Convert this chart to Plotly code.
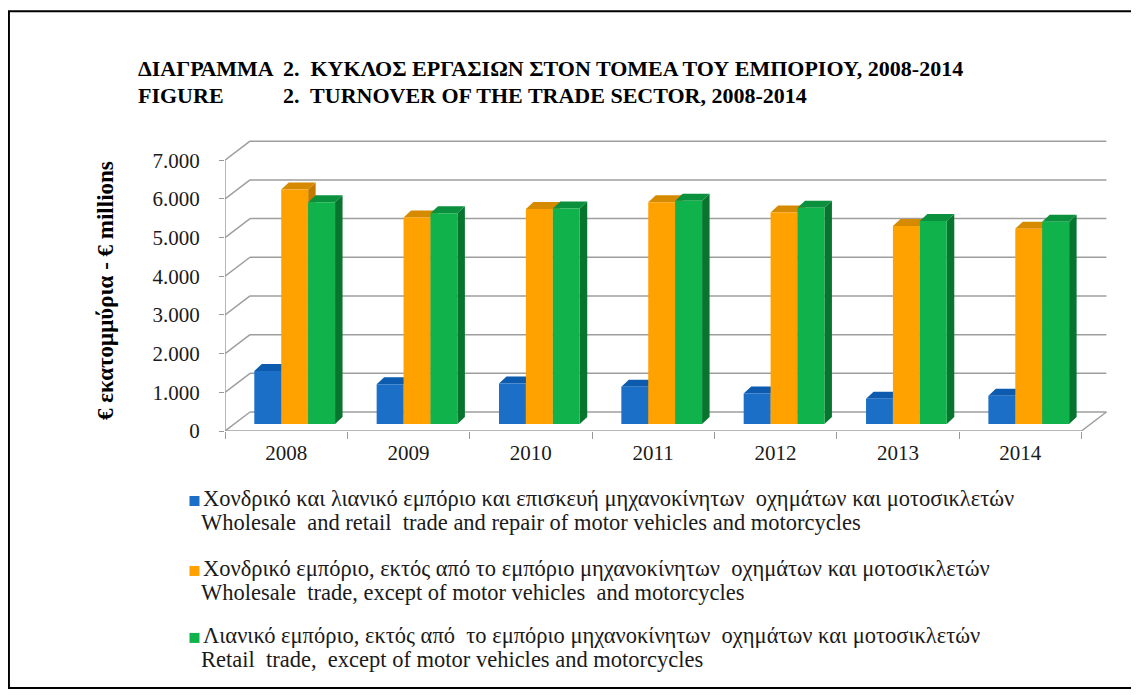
import plotly.graph_objects as go

# ---------------- data ----------------
years = ["2008", "2009", "2010", "2011", "2012", "2013", "2014"]
motor_trade = [1370, 1030, 1050, 960, 790, 650, 730]          # blue
wholesale = [6060, 5340, 5560, 5730, 5470, 5120, 5050]        # orange
retail = [5730, 5450, 5570, 5770, 5590, 5250, 5230]           # green
y_tick_values = [0, 1000, 2000, 3000, 4000, 5000, 6000, 7000]
y_tick_labels = ["0", "1.000", "2.000", "3.000", "4.000", "5.000", "6.000", "7.000"]

series_names_el = [
    "Χονδρικό και λιανικό εμπόριο και επισκευή μηχανοκίνητων  οχημάτων και μοτοσικλετών",
    "Χονδρικό εμπόριο, εκτός από το εμπόριο μηχανοκίνητων  οχημάτων και μοτοσικλετών",
    "Λιανικό εμπόριο, εκτός από  το εμπόριο μηχανοκίνητων  οχημάτων και μοτοσικλετών",
]
series_names_en = [
    "Wholesale  and retail  trade and repair of motor vehicles and motorcycles",
    "Wholesale  trade, except of motor vehicles  and motorcycles",
    "Retail  trade,  except of motor vehicles and motorcycles",
]
series_values = [motor_trade, wholesale, retail]
front_colors = ["#1B6FC6", "#FFA200", "#10B24C"]
top_colors = ["#0D5BAE", "#D68A00", "#0B913E"]
side_colors = ["#0A4C94", "#C47A00", "#08752F"]

# ---------------- geometry (layout) ----------------
OFF = 8                      # page body margin of the html page
W, H = 1139 - OFF, 695 - OFF
L_PX, R_PX, T_PX, B_PX = 225, 1111.7, 136.9, 431   # in screenshot pixels
X_RANGE = [-0.5, 6.75]
Y_RANGE = [0, 7600]
xs_per_px = (X_RANGE[1] - X_RANGE[0]) / (R_PX - L_PX)
ys_per_px = (Y_RANGE[1] - Y_RANGE[0]) / (B_PX - T_PX)

DX, DY = 25 * xs_per_px, 19 * ys_per_px          # wall depth
SX, SY = 8.5 * xs_per_px, 7 * ys_per_px          # bar plane shift
BDX, BDY = 7.5 * xs_per_px, 7 * ys_per_px        # bar depth
BW = 0.22
n = len(years)
xpos = list(range(n))


def px(x):
    return (x - L_PX) / (R_PX - L_PX)


def py(y):
    return (B_PX - y) / (B_PX - T_PX)


fig = go.Figure()
shapes = []
grid = dict(color="#9E9E9E", width=1.5)

# back wall gridlines and left wall diagonals
left, right = -0.5, n - 0.5
for v in y_tick_values:
    shapes.append(dict(type="line", xref="x", yref="y", layer="below",
                       x0=left + DX, x1=right + DX, y0=v + DY, y1=v + DY, line=grid))
    shapes.append(dict(type="line", xref="x", yref="y", layer="below",
                       x0=left, x1=left + DX, y0=v, y1=v + DY, line=grid))
# floor front edge, right diagonal, front y axis
shapes.append(dict(type="line", xref="x", yref="y", layer="below",
                   x0=left, x1=right, y0=0, y1=0, line=grid))
shapes.append(dict(type="line", xref="x", yref="y", layer="below",
                   x0=right, x1=right + DX, y0=0, y1=DY, line=grid))
shapes.append(dict(type="line", xref="x", yref="y", layer="below",
                   x0=left, x1=left, y0=0, y1=y_tick_values[-1], line=grid))

# 3D faces of bars
offsets = [-0.33 + SX + i * BW for i in range(3)]
for c in range(n):
    for i, vals in enumerate(series_values):
        x0 = xpos[c] + offsets[i]
        x1 = x0 + BW
        b = SY
        t = SY + vals[c]
        top = f"M {x0},{t} L {x0 + BDX},{t + BDY} L {x1 + BDX},{t + BDY} L {x1},{t} Z"
        side = f"M {x1},{b} L {x1},{t} L {x1 + BDX},{t + BDY} L {x1 + BDX},{b + BDY} Z"
        shapes.append(dict(type="path", xref="x", yref="y", layer="below", path=side,
                           fillcolor=side_colors[i], line=dict(width=0)))
        shapes.append(dict(type="path", xref="x", yref="y", layer="below", path=top,
                           fillcolor=top_colors[i], line=dict(width=0)))

# bar front faces
for i, vals in enumerate(series_values):
    fig.add_trace(go.Bar(
        x=xpos, y=vals, base=[SY] * n, width=BW, offset=offsets[i],
        marker=dict(color=front_colors[i], line=dict(width=0)),
        name=series_names_el[i] + " / " + series_names_en[i], showlegend=False,
    ))

# outer frame
shapes.append(dict(type="rect", xref="paper", yref="paper",
                   x0=px(9), x1=px(1132), y0=py(688), y1=py(11),
                   line=dict(color="#000000", width=2)))

# legend swatches
legend_rows = [(499, 523), (569, 593), (636, 660)]
for i, (y1, y2) in enumerate(legend_rows):
    shapes.append(dict(type="rect", xref="paper", yref="paper",
                       xsizemode="pixel", ysizemode="pixel",
                       xanchor=px(194.5), yanchor=py(y1 + 2), x0=-5, x1=5, y0=-5, y1=5,
                       fillcolor=front_colors[i], line=dict(width=0)))

serif = "Liberation Serif, Times New Roman, serif"
annotations = []
title_font = dict(family=serif, size=22, color="#000000")


def ann(text, x, y, font, xanchor="left", **kw):
    d = dict(text=text, x=px(x), y=py(y), xanchor=xanchor, yanchor="middle",
             xref="paper", yref="paper", showarrow=False, font=font)
    d.update(kw)
    return d


annotations += [
    ann("<b>ΔΙΑΓΡΑΜΜΑ</b>", 136, 68, title_font),
    ann("<b>2.  ΚΥΚΛΟΣ ΕΡΓΑΣΙΩΝ ΣΤΟΝ ΤΟΜΕΑ ΤΟΥ ΕΜΠΟΡΙΟΥ, 2008-2014</b>", 281, 68, title_font),
    ann("<b>FIGURE</b>", 136, 95, title_font),
    ann("<b>2.  TURNOVER OF THE TRADE SECTOR, 2008-2014</b>", 281, 95, title_font),
    ann("<b>€ εκατομμύρια - € millions</b>", 105, 290,
        dict(family=serif, size=23, color="#000000"), xanchor="center", textangle=-90),
]
leg_font = dict(family=serif, size=22.5, color="#1a1a1a")
for i, (y1, y2) in enumerate(legend_rows):
    annotations.append(ann(series_names_el[i], 201, y1, leg_font))
    annotations.append(ann(series_names_en[i], 199, y2, leg_font))

fig.update_layout(
    width=W, height=H,
    margin=dict(l=L_PX - OFF, r=W - (R_PX - OFF), t=T_PX - OFF, b=H - (B_PX - OFF), pad=0),
    paper_bgcolor="#ffffff", plot_bgcolor="#ffffff",
    barmode="overlay", showlegend=False,
    shapes=shapes, annotations=annotations,
    font=dict(family=serif, color="#1a1a1a"),
    xaxis=dict(range=X_RANGE, tickvals=xpos, ticktext=years, showgrid=False, zeroline=False,
               showline=False, ticks="", ticklabelstandoff=7,
               tickfont=dict(family=serif, size=21, color="#1a1a1a"),
               minor=dict(tickvals=[c - 0.5 for c in range(n + 1)], ticks="outside",
                          ticklen=7, tickcolor="#999999", showgrid=False)),
    yaxis=dict(range=Y_RANGE, tickvals=y_tick_values, ticktext=y_tick_labels, showgrid=False,
               zeroline=False, showline=False, ticks="outside", ticklen=5, tickcolor="#999999",
               ticklabelstandoff=15, tickfont=dict(family=serif, size=21, color="#1a1a1a")),
)

fig.write_html("out.html")
